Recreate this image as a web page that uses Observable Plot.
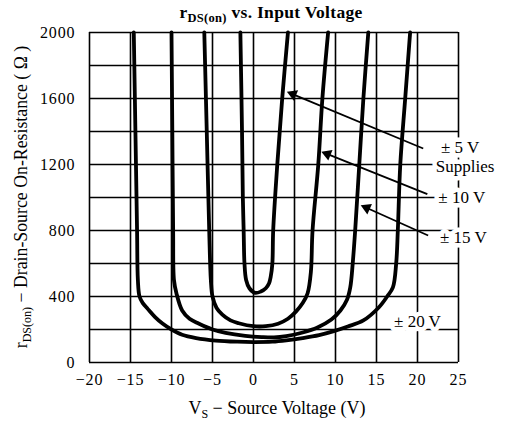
<!DOCTYPE html>
<html>
<head>
<meta charset="utf-8">
<script src="https://cdn.jsdelivr.net/npm/d3@7"></script>
<script src="https://cdn.jsdelivr.net/npm/@observablehq/plot@0.6"></script>
<style>
  body { margin: 0; background: #fff; }
  svg { display: block; }
  svg text { font-family: "Liberation Serif", "Times New Roman", Times, "DejaVu Serif", serif; }
  g[aria-label$="tick label"] text { letter-spacing: 0.9px; }
</style>
</head>
<body>
<div id="chart"></div>
<script>
// ---- data ----
const supplies = ["±5 V", "±10 V", "±15 V", "±20 V"];

const v5  = [-1.6, -1.4, -1.3, -1.2, -1.1, -0.9, -0.5, 0.2, 0.9, 1.5, 1.9, 2.1, 2.3, 2.4, 2.9, 3.5, 4.2];
const r5  = [2000, 1400, 1000, 800, 600, 500, 450, 422, 430, 450, 480, 520, 600, 800, 1200, 1600, 2000];

const v10 = [-6.0, -5.7, -5.4, -5.2, -5.0, -4.5, -3.8, -2.8, -1.8, 0, 1.5, 3.0, 4.2, 5.2, 6.0, 6.6, 7.0, 7.2, 7.9, 8.4, 9.1];
const r10 = [2000, 1400, 800, 500, 400, 330, 290, 255, 238, 220, 220, 235, 265, 310, 360, 420, 550, 800, 1200, 1600, 2000];

const v15 = [-10.0, -9.9, -9.8, -9.7, -9.4, -8.7, -7.8, -6.7, -5, -3.4, -1, 1, 2.5, 4, 6, 7.8, 9.5, 10.6, 11.4, 11.8, 12.1, 12.4, 12.9, 13.4, 14.0];
const r15 = [2000, 1400, 800, 500, 420, 315, 265, 236, 200, 180, 162, 154, 152, 160, 182, 212, 260, 315, 380, 455, 600, 800, 1200, 1600, 2000];

const v20 = [-14.6, -14.4, -14.2, -14.1, -13.9, -13.5, -12.9, -12, -11.1, -10, -8.7, -7, -4.6, -2, 0, 2.3, 4, 6, 8, 9.8, 11.5, 13.4, 15.3, 16.3, 17.0, 17.4, 17.6, 17.9, 18.5, 19.1];
const r20 = [2000, 1400, 800, 500, 400, 360, 325, 275, 236, 200, 168, 148, 133, 126, 124, 126, 134, 148, 166, 190, 218, 255, 335, 400, 455, 600, 800, 1200, 1600, 2000];

const xTicks = [-20, -15, -10, -5, 0, 5, 10, 15, 20, 25];
const yTicks = [0, 400, 800, 1200, 1600, 2000];
const yGrid  = [0, 200, 400, 600, 800, 1000, 1200, 1400, 1600, 1800, 2000];

// annotation labels (data coordinates)
const labelText = ["± 5 V", "Supplies", "± 10 V", "± 15 V", "± 20 V"];
const labelX    = [25.2, 25.8, 25.4, 25.6, 20.0];
const labelY    = [1300, 1190, 1000, 760, 250];

// arrows: tail -> head
const arrowX1 = [20.7, 21.2, 21.3];
const arrowY1 = [1297, 1020, 770];
const arrowX2 = [4.3, 8.5, 13.3];
const arrowY2 = [1636, 1273, 948];

// ---- layout ----
const W = 506, H = 424, mL = 89, mR = 48, mT = 32, mB = 62;
const xDom = [-20, 25], yDom = [0, 2000];
const kx = (W - mL - mR) / (xDom[1] - xDom[0]);   // px per volt
const ky = (H - mT - mB) / (yDom[1] - yDom[0]);   // px per ohm

// ---- build tables ----
const seriesV = [v5, v10, v15, v20];
const seriesR = [r5, r10, r15, r20];
const rows = [];
supplies.forEach((s, i) => seriesV[i].forEach((v, j) => rows.push({s, v, r: seriesR[i][j]})));
const labels = labelText.map((t, i) => ({t, x: labelX[i], y: labelY[i]}));
const arrows = arrowX1.map((x1, i) => {
  const x2 = arrowX2[i], y1 = arrowY1[i], y2 = arrowY2[i];
  const dx = (x2 - x1) * kx, dy = -(y2 - y1) * ky;       // screen direction
  const len = Math.hypot(dx, dy), ux = dx / len, uy = dy / len;
  const back = 4.5;                                        // head centroid offset (px)
  return {x1, y1, x2, y2,
    hx: x2 - ux * back / kx, hy: y2 + uy * back / ky,
    rot: Math.atan2(dx, -dy) * 180 / Math.PI,
    sx2: x2 - ux * 6 / kx, sy2: y2 + uy * 6 / ky};
});

const chart = Plot.plot({
  width: W,
  height: H,
  marginLeft: mL,
  marginRight: mR,
  marginTop: mT,
  marginBottom: mB,
  style: {fontSize: "16px", background: "white", color: "black", overflow: "visible"},
  x: {domain: xDom, ticks: xTicks, tickSize: 0, tickPadding: 11, label: null,
      tickFormat: d => d < 0 ? "\u2212" + Math.abs(d) : String(d)},
  y: {domain: yDom, ticks: yTicks, tickSize: 0, tickPadding: 14, label: null,
      tickFormat: d => String(d)},
  marks: [
    Plot.gridX(xTicks, {stroke: "black", strokeOpacity: 1, strokeWidth: 1.6}),
    Plot.gridY(yGrid, {stroke: "black", strokeOpacity: 1, strokeWidth: 1.6}),
    Plot.line(rows, {x: "v", y: "r", z: "s", stroke: "black", strokeWidth: 3.8, curve: "catmull-rom"}),
    Plot.text(labels, {x: "x", y: "y", text: "t", fill: "black", stroke: "white", strokeWidth: 9,
      fontSize: 17}),
    Plot.link(arrows, {x1: "x1", y1: "y1", x2: "sx2", y2: "sy2", stroke: "black", strokeWidth: 1.8}),
    Plot.dot(arrows, {x: "hx", y: "hy", symbol: "triangle", r: 4.2, rotate: "rot", fill: "black", stroke: "none"})
  ]
});

const svg = d3.select(chart);

// title
const title = svg.append("text")
  .attr("x", 271).attr("y", 18)
  .attr("text-anchor", "middle")
  .attr("font-weight", "bold").attr("font-size", 17.5).attr("letter-spacing", "0.3px")
  .attr("fill", "black");
title.append("tspan").text("r");
title.append("tspan").attr("font-size", 12.5).attr("dy", 4).text("DS(on)");
title.append("tspan").attr("dy", -4).text(" vs. Input Voltage");

// x label
const xl = svg.append("text")
  .attr("x", 277).attr("y", 414)
  .attr("text-anchor", "middle")
  .attr("font-size", 18).attr("fill", "black");
xl.append("tspan").text("V");
xl.append("tspan").attr("font-size", 12).attr("dy", 4).text("S");
xl.append("tspan").attr("dy", -4).text(" \u2212 Source Voltage (V)");

// y label
const yl = svg.append("text")
  .attr("transform", "translate(27,197) rotate(-90)")
  .attr("text-anchor", "middle")
  .attr("font-size", 17.8).attr("fill", "black");
yl.append("tspan").text("r");
yl.append("tspan").attr("font-size", 12).attr("dy", 4).text("DS(on)");
yl.append("tspan").attr("dy", -4).text(" \u2212 Drain-Source On-Resistance ( \u03A9 )");

document.getElementById("chart").appendChild(chart);
</script>
</body>
</html>
